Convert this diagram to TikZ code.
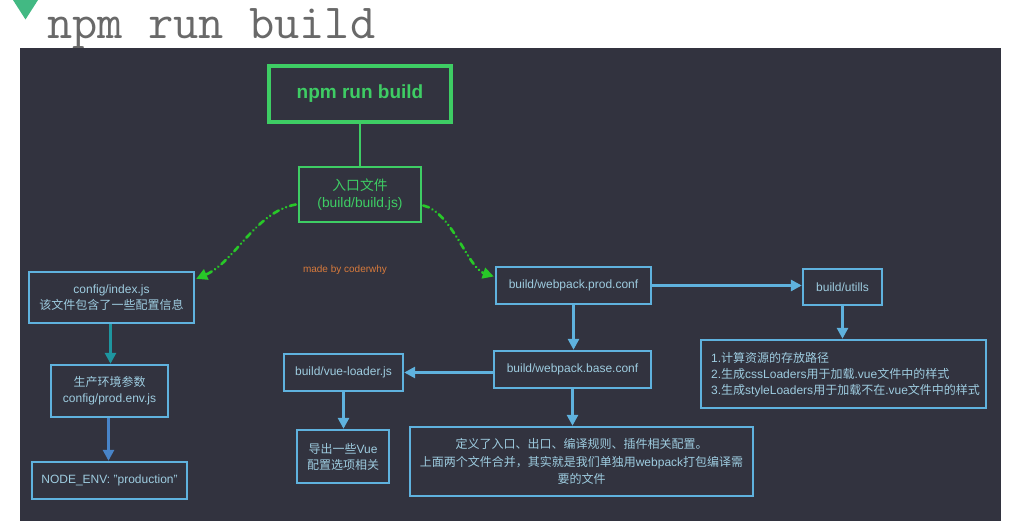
\documentclass[tikz,border=0pt]{standalone}
\usepackage{fontspec}
\setmainfont{Liberation Sans}
\newfontfamily\cjk{Noto Sans CJK SC}
\usetikzlibrary{arrows.meta,calc}
\newcommand\zh[1]{{\cjk #1}}

\definecolor{panelbg}{RGB}{50,51,63}
\definecolor{vuegreen}{RGB}{66,185,131}
\definecolor{titlegray}{RGB}{105,105,105}
\definecolor{boxgreen}{RGB}{62,205,100}
\definecolor{dashgreen}{RGB}{40,200,40}
\definecolor{boxblue}{RGB}{95,178,222}
\definecolor{boxtext}{RGB}{158,204,224}
\definecolor{tealarrow}{RGB}{30,150,160}
\definecolor{steelarrow}{RGB}{72,132,200}
\definecolor{signorange}{RGB}{215,122,60}

\tikzset{
  bluebox/.style={draw=boxblue, line width=2.4bp, text=boxtext, inner sep=0pt,
    align=center, font=\fontsize{12bp}{16bp}\selectfont},
  greenbox/.style={draw=boxgreen, text=boxgreen, inner sep=0pt, align=center},
  flow/.style={draw=boxblue, line width=3bp, -{Triangle[length=11bp,width=11bp]}},
  jump/.style={draw=dashgreen, line width=2.6bp, line cap=round,
    dash pattern=on 6bp off 4bp on 0.1bp off 4bp on 0.1bp off 4bp,
    -{Triangle[length=11bp,width=11bp,fill=dashgreen]}},
}

\begin{document}
\begin{tikzpicture}[x=1bp,y=-1bp]
\useasboundingbox (0,0) rectangle (1011,521);
\fill[white] (0,0) rectangle (1011,521);

% heading marker and title
\fill[vuegreen] (13,0) -- (38,0) -- (25.5,19.5) -- cycle;
\node[anchor=base west, inner sep=0pt, text=titlegray,
  font=\ttfamily\fontsize{49bp}{50bp}\selectfont] (title) at (47,39) {npm run build};

% dark panel
\fill[panelbg] (20,48) rectangle (1001,521);

% entry chain
\node[greenbox, line width=3.2bp, minimum width=182bp, minimum height=56bp,
  font=\bfseries\fontsize{19bp}{22bp}\selectfont] (npm) at (360,94) {npm run build};
\node[greenbox, line width=2.4bp, minimum width=122bp, minimum height=55bp,
  font=\fontsize{13.8bp}{17bp}\selectfont] (entry) at (360,194.5) {\zh{入口文件}\\(build/build.js)};
\draw[boxgreen, line width=2.4bp] (npm.south) -- (entry.north);

\node[text=signorange, font=\fontsize{10bp}{12bp}\selectfont, inner sep=0pt] (sign) at (345,270) {made by coderwhy};

% left column
\node[bluebox, minimum width=165bp, minimum height=51bp] (config) at (111.5,297.5)
  {config/index.js\\\zh{该文件包含了一些配置信息}};
\node[bluebox, minimum width=117bp, minimum height=52bp] (prodenv) at (109.5,391)
  {\zh{生产环境参数}\\config/prod.env.js};
\node[bluebox, minimum width=155bp, minimum height=37bp] (nodeenv) at (109.5,480.5)
  {NODE\_ENV: "production"};

% middle column
\node[bluebox, minimum width=155bp, minimum height=37bp] (prod) at (573.5,285.5) {build/webpack.prod.conf};
\node[bluebox, minimum width=157bp, minimum height=37bp] (base) at (572.5,369.5) {build/webpack.base.conf};
\node[bluebox, minimum width=119bp, minimum height=37bp] (vueloader) at (343.5,372.5) {build/vue-loader.js};
\node[bluebox, minimum width=92bp, minimum height=53bp] (vueexp) at (343,456.5)
  {\zh{导出一些}Vue\\\zh{配置选项相关}};
\node[bluebox, minimum width=343bp, minimum height=69bp, font=\fontsize{12bp}{17.5bp}\selectfont] (merge) at (581.5,461.5)
  {\zh{定义了入口、出口、编译规则、插件相关配置。}\\
   \zh{上面两个文件合并，其实就是我们单独用}webpack\zh{打包编译需}\\
   \zh{要的文件}};

% right column
\node[bluebox, minimum width=79bp, minimum height=36bp] (utils) at (842.5,287) {build/utills};
\node[bluebox, minimum width=285bp, minimum height=68bp] (tasks) at (843.5,374) {};
\node[anchor=west, inner sep=0pt, text=boxtext, align=left,
  font=\fontsize{12bp}{16bp}\selectfont] (tasklist) at (711,375)
  {1.\zh{计算资源的存放路径}\\
   2.\zh{生成}cssLoaders\zh{用于加载}.vue\zh{文件中的样式}\\
   3.\zh{生成}styleLoaders\zh{用于加载不在}.vue\zh{文件中的样式}};

% dashed jumps out of the entry file
\draw[jump] ($(entry.west)+(-2,10)$) .. controls (255,212) and (235,262) .. ($(config.north east)+(1,8)$);
\draw[jump] ($(entry.east)+(1,11)$) .. controls (452,212) and (468,268) .. ($(prod.west)+(-1,-9)$);

% solid flows
\draw[flow, draw=tealarrow, -{Triangle[length=11bp,width=11bp,fill=tealarrow]}] ($(config.south)+(-1,0)$) -- ($(config.south |- prodenv.north)+(-1,0)$);
\draw[flow, draw=steelarrow, -{Triangle[length=11bp,width=11bp,fill=steelarrow]}] ($(prodenv.south)+(-1,0)$) -- ($(prodenv.south |- nodeenv.north)+(-1,0)$);
\draw[flow] (prod.south) -- (base.north -| prod.south);
\draw[flow] (prod.east) -- (utils.west |- prod.east);
\draw[flow] (utils.south) -- (tasks.north -| utils.south);
\draw[flow] (base.west |- vueloader.east) -- (vueloader.east);
\draw[flow] (vueloader.south) -- (vueexp.north -| vueloader.south);
\draw[flow] (base.south) -- (merge.north -| base.south);
\end{tikzpicture}
\end{document}
